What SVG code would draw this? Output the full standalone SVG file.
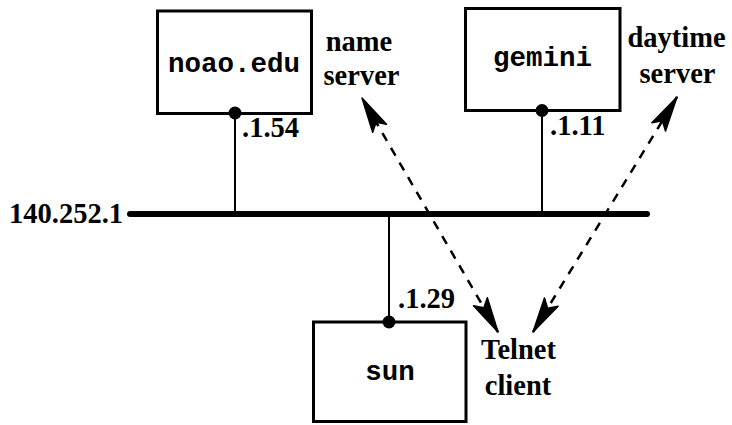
<svg xmlns="http://www.w3.org/2000/svg" width="732" height="425" viewBox="0 0 732 425">
  <style>
    .box { fill: #fff; stroke: #000; stroke-width: 3; }
    .mono { font-family: "Liberation Mono", "DejaVu Sans Mono", monospace; font-size: 27.5px; font-weight: bold; fill: #000; }
    .lbl { font-family: "Liberation Serif", "DejaVu Serif", serif; font-size: 28.5px; font-weight: bold; fill: #000; }
    .drop { stroke: #000; stroke-width: 2; fill: none; }
    .dot { fill: #000; }
    .bus { stroke: #000; stroke-width: 6; stroke-linecap: round; fill: none; }
    .flow { stroke: #000; stroke-width: 2.5; stroke-dasharray: 9 8; fill: none; marker-start: url(#ah); marker-end: url(#ah); }
  </style>
  <defs>
    <marker id="ah" markerUnits="userSpaceOnUse" markerWidth="44" markerHeight="22" refX="38" refY="11" orient="auto-start-reverse" viewBox="0 0 44 22">
      <path d="M38,11 L3,3 L10,11 L3,19 Z" fill="#000" stroke="#000" stroke-width="1.5" stroke-linejoin="round"/>
    </marker>
  </defs>

  <g id="network">
    <line class="bus" x1="130" y1="214" x2="647" y2="214"/>
    <text class="lbl" x="123" y="223" text-anchor="end">140.252.1</text>
  </g>

  <g id="noao">
    <rect class="box" x="157.5" y="11" width="154" height="102.5"/>
    <text class="mono" x="234" y="72" text-anchor="middle">noao.edu</text>
    <line class="drop" x1="235" y1="113" x2="235" y2="214"/>
    <circle class="dot" cx="235" cy="113" r="6.5"/>
    <text class="lbl" x="242" y="137">.1.54</text>
  </g>

  <g id="gemini">
    <rect class="box" x="465.5" y="8.5" width="154.5" height="102"/>
    <text class="mono" x="542.5" y="66" text-anchor="middle">gemini</text>
    <line class="drop" x1="542" y1="110.5" x2="542" y2="214"/>
    <circle class="dot" cx="542" cy="110.5" r="6.5"/>
    <text class="lbl" x="550" y="135">.1.11</text>
  </g>

  <g id="sun">
    <rect class="box" x="313.5" y="322" width="152.5" height="99.5"/>
    <text class="mono" x="390" y="380" text-anchor="middle">sun</text>
    <line class="drop" x1="389" y1="214" x2="389" y2="322"/>
    <circle class="dot" cx="389" cy="322" r="6.5"/>
    <text class="lbl" x="398" y="308">.1.29</text>
  </g>

  <g id="name-server">
    <text class="lbl" x="359" y="51" text-anchor="middle">name</text>
    <text class="lbl" x="361.5" y="85" text-anchor="middle">server</text>
  </g>

  <g id="daytime-server">
    <text class="lbl" x="676.5" y="47" text-anchor="middle">daytime</text>
    <text class="lbl" x="677.5" y="83" text-anchor="middle">server</text>
  </g>

  <g id="telnet-client">
    <text class="lbl" x="518.5" y="359" text-anchor="middle">Telnet</text>
    <text class="lbl" x="518" y="395" text-anchor="middle">client</text>
  </g>

  <g id="connectors">
    <line class="flow" x1="498" y1="332" x2="362" y2="98"/>
    <line class="flow" x1="533" y1="332" x2="677" y2="97"/>
  </g>
</svg>
